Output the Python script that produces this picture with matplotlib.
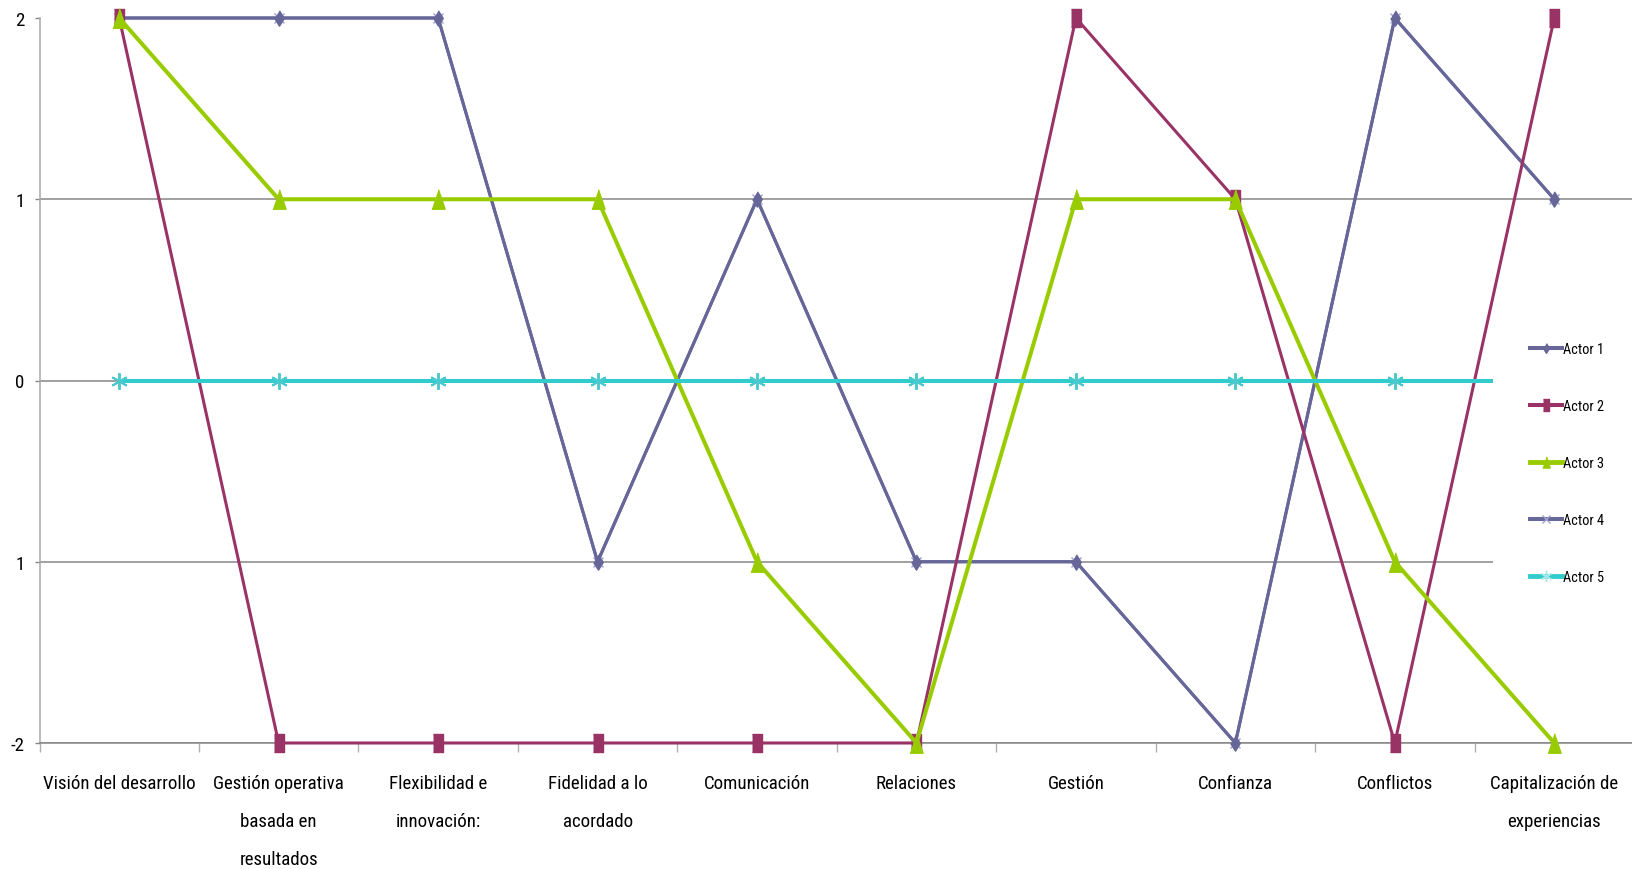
# Gráfico de actores por criterio (recreación de gráfico de líneas estilo Excel)
import numpy as np
import matplotlib
matplotlib.use('Agg')
import matplotlib.pyplot as plt
from matplotlib import font_manager
from matplotlib.font_manager import FontProperties
from matplotlib.lines import Line2D
from matplotlib.patches import Rectangle

CATEGORIES = [
    "Visión del desarrollo",
    "Gestión operativa\nbasada en\nresultados",
    "Flexibilidad e\ninnovación:",
    "Fidelidad a lo\nacordado",
    "Comunicación",
    "Relaciones",
    "Gestión",
    "Confianza",
    "Conflictos",
    "Capitalización de\nexperiencias",
]

ACTOR_1 = [2, 2, 2, -1, 1, -1, -1, -2, 2, 1]
ACTOR_2 = [2, -2, -2, -2, -2, -2, 2, 1, -2, 2]
ACTOR_3 = [2, 1, 1, 1, -1, -2, 1, 1, -1, -2]
ACTOR_4 = [2, 2, 2, -1, 1, -1, -1, -2, 2, 1]
ACTOR_5 = [0, 0, 0, 0, 0, 0, 0, 0, 0, 0]

Y_TICKS = [-2, -1, 0, 1, 2]
Y_TICK_LABELS = ["-2", "1", "0", "1", "2"]
LEGEND_LABELS = ["Actor 1", "Actor 2", "Actor 3", "Actor 4", "Actor 5"]

C1 = "#666699"
C2 = "#993366"
C3 = "#99cc00"
C5 = "#33cccc"

# marcadores algo más altos que anchos, como en el original
DIAMOND = [(0, 1), (0.62, 0), (0, -1), (-0.62, 0)]
TALL_SQUARE = [(-0.6, -1), (0.6, -1), (0.6, 1), (-0.6, 1)]
TALL_TRIANGLE = [(-0.68, -1), (0.68, -1), (0, 1)]
STAR = (6, 2, 0)


def pick_font():
    # busca una fuente estrecha; si no hay, se queda con una normal
    for name in ['Liberation Sans Narrow', 'Roboto Condensed', 'Open Sans Condensed']:
        try:
            font_manager.findfont(FontProperties(family=name), fallback_to_default=False)
            return name, 'normal'
        except ValueError:
            pass
    path = font_manager.findfont(FontProperties(family='DejaVu Sans', stretch='condensed'))
    if 'Condensed' in path:
        return 'DejaVu Sans', 'condensed'
    return 'Liberation Sans', 'normal'


FONT, STRETCH = pick_font()
plt.rcParams['font.family'] = [FONT, 'DejaVu Sans']
plt.rcParams['font.stretch'] = STRETCH

W, H = 1632, 870
fig = plt.figure(figsize=(W / 100, H / 100), dpi=100)
renderer = fig.canvas.get_renderer()


def text_box(sample, size, **kw):
    t = fig.text(0, 0, sample, fontsize=size, **kw)
    bb = t.get_window_extent(renderer)
    t.remove()
    return bb


def fit_size(sample, target_px, start=12):
    return start * target_px / text_box(sample, start).width


CAT_FS = min(fit_size("Visión del desarrollo", 153), 16)
LEG_FS = min(fit_size("Actor 1", 41), 13)

# separación entre líneas de las etiquetas de ~38 px
h1 = text_box("Ag", CAT_FS, linespacing=1.0).height
h3 = text_box("Ag\nAg\nAg", CAT_FS, linespacing=1.0).height
line_sp = 44 / ((h3 - h1) / 2) if h3 > h1 else 2.2

ax = fig.add_axes([39.5 / W, 1 - 744 / H, (1634 - 39.5) / W, (744 - 19) / H])

x = np.arange(len(CATEGORIES))

ax.plot(x, ACTOR_4, color=C1, lw=2.2, marker='x', ms=7, mec="#a0a0d0", mew=1, zorder=2, clip_on=False)
ax.plot(x, ACTOR_1, color=C1, lw=2.2, marker=DIAMOND, ms=11, mfc=C1, mec=C1, zorder=3, clip_on=False)
ax.plot(x, ACTOR_2, color=C2, lw=2.2, marker=TALL_SQUARE, ms=13, mfc=C2, mec=C2, zorder=3, clip_on=False)
ax.plot(x, ACTOR_3, color=C3, lw=2.9, marker=TALL_TRIANGLE, ms=14, mfc=C3, mec=C3, zorder=3, clip_on=False)
ax.plot(x, ACTOR_5, color=C5, lw=2.9, marker=STAR, ms=12, mec="#4cc9cc", mew=1.4, zorder=3, clip_on=False)

ax.set_xlim(-0.5, len(CATEGORIES) - 0.5)
ax.set_ylim(-2, 2)

ax.set_xticks(x)
ax.set_xticklabels(CATEGORIES, fontsize=CAT_FS, linespacing=line_sp)
ax.set_xticks(np.arange(-0.5, len(CATEGORIES), 1.0), minor=True)
ax.tick_params(axis='x', which='major', length=0, pad=22)
ax.tick_params(axis='x', which='minor', length=6.5, width=1, color="#b0b0b0", direction='out')

ax.set_yticks(Y_TICKS)
ax.set_yticklabels(Y_TICK_LABELS, fontsize=CAT_FS)
ax.tick_params(axis='y', length=3.6, width=1, color="#868686", pad=7)

ax.grid(axis='y', color="#868686", lw=1.1, zorder=1)
ax.set_axisbelow(True)
ax.get_ygridlines()[-1].set_visible(False)

for s in ['top', 'right']:
    ax.spines[s].set_visible(False)
ax.spines['left'].set_color("#a8a8a8")
ax.spines['left'].set_linewidth(1.1)
ax.spines['bottom'].set_color("#868686")
ax.spines['bottom'].set_linewidth(1.1)

# fondo blanco de la leyenda, tapa las líneas a la derecha
ax.add_patch(Rectangle((1493 / W, 1 - 606 / H), (W - 1493) / W, (606 - 318) / H,
                       transform=fig.transFigure, facecolor='white', edgecolor='none',
                       zorder=4, clip_on=False))

handles = [
    Line2D([], [], color=C1, lw=2.9, marker=DIAMOND, ms=7, mfc=C1, mec=C1),
    Line2D([], [], color=C2, lw=2.9, marker=TALL_SQUARE, ms=8, mfc=C2, mec=C2),
    Line2D([], [], color=C3, lw=3.5, marker=TALL_TRIANGLE, ms=8, mfc=C3, mec=C3),
    Line2D([], [], color=C1, lw=2.9, marker='x', ms=6, mec="#a0a0d0", mew=1),
    Line2D([], [], color=C5, lw=3.5, marker=STAR, ms=8, mec="#a8e8ea", mew=1),
]
leg_px = LEG_FS * 100 / 72
row_h = text_box("Actor 1", LEG_FS).height
leg = ax.legend(handles, LEGEND_LABELS, loc='center left', bbox_to_anchor=(1530 / W, 1 - 464 / H),
                bbox_transform=fig.transFigure, frameon=False, fontsize=LEG_FS,
                handlelength=32 / leg_px, handletextpad=0.1,
                labelspacing=(57 - row_h) / leg_px,
                borderpad=0, borderaxespad=0)
leg.set_zorder(5)

plt.savefig("out.png", dpi=100)
plt.close()
